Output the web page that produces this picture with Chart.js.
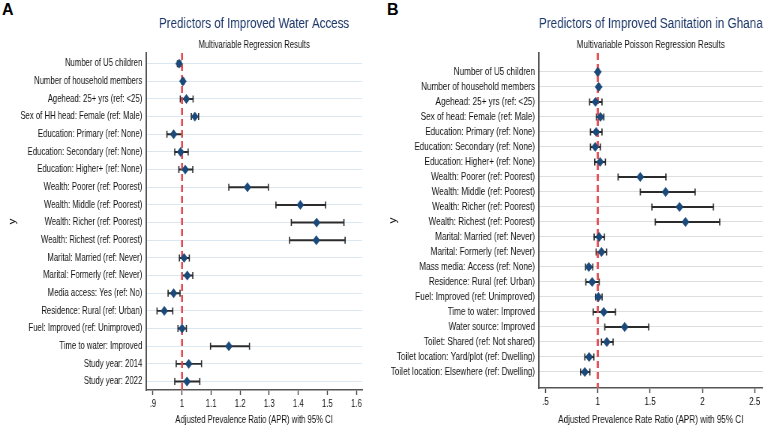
<!DOCTYPE html>
<html>
<head>
<meta charset="utf-8">
<script src="https://cdn.jsdelivr.net/npm/chart.js@4.4.1/dist/chart.umd.min.js"></script>
<style>
  html, body { margin: 0; padding: 0; background: #fff; }
  body { width: 767px; height: 426px; position: relative; overflow: hidden; font-family: 'Liberation Sans', Arial, sans-serif; }
  .panel-tag { position: absolute; top: 1px; font-weight: bold; font-size: 16px; color: #000; }
  canvas { position: absolute; top: 0; transform-origin: 0 0; }
</style>
</head>
<body>
<div class="panel-tag" style="left:2px">A</div>
<div class="panel-tag" style="left:387px">B</div>
<canvas id="waterChart" width="507" height="426" style="left:0; transform:scaleX(0.75)"></canvas>
<canvas id="sanChart" width="490" height="426" style="left:380px; transform:scaleX(0.79)"></canvas>
<script>
// Panel A - water access
const waterLabels = [
    'Number of U5 children', 'Number of household members', 'Agehead: 25+ yrs (ref: <25)',
    'Sex of HH head: Female (ref: Male)', 'Education: Primary (ref: None)', 'Education: Secondary (ref: None)',
    'Education: Higher+ (ref: None)', 'Wealth: Poorer (ref: Poorest)', 'Wealth: Middle (ref: Poorest)',
    'Wealth: Richer (ref: Poorest)', 'Wealth: Richest (ref: Poorest)', 'Marital: Married (ref: Never)',
    'Marital: Formerly (ref: Never)', 'Media access: Yes (ref: No)', 'Residence: Rural (ref: Urban)',
    'Fuel: Improved (ref: Unimproved)', 'Time to water: Improved', 'Study year: 2014', 'Study year: 2022'
];
const waterApr  = [0.990, 1.003, 1.015, 1.044, 0.971, 0.995, 1.011, 1.225, 1.407, 1.463, 1.462, 1.007, 1.018, 0.971, 0.939, 1.000, 1.161, 1.023, 1.017];
const waterLow  = [0.984, 0.999, 0.994, 1.032, 0.948, 0.975, 0.989, 1.161, 1.323, 1.376, 1.370, 0.991, 1.000, 0.952, 0.914, 0.986, 1.098, 0.980, 0.975];
const waterHigh = [0.996, 1.007, 1.038, 1.057, 1.000, 1.021, 1.037, 1.297, 1.494, 1.557, 1.561, 1.025, 1.037, 0.993, 0.968, 1.015, 1.232, 1.067, 1.061];
const waterTicks = [0.9, 1, 1.1, 1.2, 1.3, 1.4, 1.5, 1.6];

// Panel B - sanitation
const sanLabels = [
    'Number of U5 children', 'Number of household members', 'Agehead: 25+ yrs (ref: <25)',
    'Sex of head: Female (ref: Male)', 'Education: Primary (ref: None)', 'Education: Secondary (ref: None)',
    'Education: Higher+ (ref: None)', 'Wealth: Poorer (ref: Poorest)', 'Wealth: Middle (ref: Poorest)',
    'Wealth: Richer (ref: Poorest)', 'Wealth: Richest (ref: Poorest)', 'Marital: Married (ref: Never)',
    'Marital: Formerly (ref: Never)', 'Mass media: Access (ref: None)', 'Residence: Rural (ref: Urban)',
    'Fuel: Improved (ref: Unimproved)', 'Time to water: Improved', 'Water source: Improved',
    'Toilet: Shared (ref: Not shared)', 'Toilet location: Yard/plot (ref: Dwelling)', 'Toilet location: Elsewhere (ref: Dwelling)'
];
const sanApr  = [1.000, 1.008, 0.978, 1.025, 0.984, 0.975, 1.022, 1.406, 1.648, 1.781, 1.838, 1.013, 1.035, 0.914, 0.946, 1.006, 1.057, 1.257, 1.086, 0.917, 0.876];
const sanLow  = [0.990, 1.000, 0.922, 0.987, 0.930, 0.930, 0.971, 1.194, 1.406, 1.517, 1.549, 0.965, 0.984, 0.883, 0.886, 0.978, 0.956, 1.067, 1.035, 0.876, 0.835];
const sanHigh = [1.010, 1.016, 1.040, 1.057, 1.040, 1.025, 1.073, 1.651, 1.930, 2.105, 2.165, 1.063, 1.083, 0.952, 1.013, 1.041, 1.168, 1.486, 1.146, 0.962, 0.924];
const sanTicks = [0.5, 1, 1.5, 2, 2.5];

const NAVY = '#1b4a7a';
const BAR_INK = '#2b2b2b';
const TXT = '#111';

Chart.defaults.font.family = "'Liberation Sans', Arial, sans-serif";

function fmtTick(v) {
    return String(v).replace(/^0\./, '.');
}

function buildPanel(id, p) {
    const rows = p.labels.map((_, i) => i + 1);
    const ctx = document.getElementById(id).getContext('2d');

    return new Chart(ctx, {
        type: 'scatter',
        data: {
            datasets: [
                {
                    type: 'bar', indexAxis: 'y',
                    data: rows.map((r, i) => ({ x: [p.low[i], p.high[i]], y: r })),
                    backgroundColor: BAR_INK, barThickness: 1.3, borderWidth: 0, order: 3
                },
                {
                    type: 'scatter',
                    data: rows.flatMap((r, i) => [{ x: p.low[i], y: r }, { x: p.high[i], y: r }]),
                    pointStyle: 'line', pointRotation: 90, pointRadius: 3.5,
                    pointBorderWidth: 1.6, pointBorderColor: BAR_INK, order: 2
                },
                {
                    type: 'scatter', showLine: true,
                    data: [{ x: 1, y: p.yMin }, { x: 1, y: p.yMax }],
                    borderColor: '#e5494f', borderWidth: 2.6, borderDash: [7, 4],
                    pointRadius: 0, order: 1
                },
                {
                    type: 'scatter',
                    data: rows.map((r, i) => ({ x: p.apr[i], y: r })),
                    pointStyle: 'rectRot', pointRadius: 4.7,
                    pointBackgroundColor: NAVY, pointBorderColor: NAVY, pointBorderWidth: 0.5, order: 0
                }
            ]
        },
        options: {
            responsive: false, animation: false, devicePixelRatio: 1,
            layout: { padding: { left: 0, right: p.padRight, top: 0, bottom: 0 } },
            plugins: {
                legend: { display: false },
                tooltip: { enabled: false },
                title: {
                    display: true, text: p.title, fullSize: false, color: '#1c3668',
                    font: { size: p.titleSize, weight: 'normal', lineHeight: 1.2 },
                    padding: { top: 15, bottom: 0 }
                },
                subtitle: {
                    display: true, text: p.subtitle, fullSize: false, color: TXT,
                    font: { size: 10.2, lineHeight: 1.2 },
                    padding: { top: 5.5, bottom: 1.9 }
                }
            },
            scales: {
                x: {
                    type: 'linear', min: p.xMin, max: p.xMax, offset: false, beginAtZero: false,
                    afterBuildTicks: s => { s.ticks = p.ticks.map(v => ({ value: v })); },
                    afterFit: s => { s.height = p.axisHeight; },
                    grid: { drawOnChartArea: false, drawTicks: true, tickLength: 5, tickColor: '#444', tickWidth: 1.4 },
                    border: { color: '#555', width: 1.6 },
                    ticks: { callback: v => fmtTick(v), color: TXT, font: { size: 10.3 }, padding: 3, maxRotation: 0, autoSkip: false },
                    title: { display: true, text: p.xTitle, color: TXT, font: { size: 10.3 }, padding: { top: 0, bottom: 0 } }
                },
                y: {
                    type: 'linear', reverse: true, min: p.yMin, max: p.yMax, offset: false,
                    afterBuildTicks: s => { s.ticks = rows.map(v => ({ value: v })); },
                    afterFit: s => { s.width = p.axisWidth; },
                    grid: { color: p.gridColor, lineWidth: 1, drawTicks: false, offset: false },
                    border: { color: '#555', width: 2 },
                    ticks: { callback: v => p.labels[Math.round(v) - 1], color: TXT, font: { size: 10.3 }, padding: 5, autoSkip: false },
                    title: { display: true, text: 'y', color: TXT, font: { size: 12 }, padding: { top: 9 } }
                }
            }
        }
    });
}

buildPanel('waterChart', {
    labels: waterLabels, apr: waterApr, low: waterLow, high: waterHigh, ticks: waterTicks,
    xMin: 0.876, xMax: 1.62, yMin: 0.405, yMax: 19.48,
    title: 'Predictors of Improved Water Access', titleSize: 15.4,
    subtitle: 'Multivariable Regression Results',
    xTitle: 'Adjusted Prevalence Ratio (APR) with 95% CI',
    gridColor: '#dce8f1', axisWidth: 146 / 0.75, padRight: 18 / 0.75, axisHeight: 36
});

buildPanel('sanChart', {
    labels: sanLabels, apr: sanApr, low: sanLow, high: sanHigh, ticks: sanTicks,
    xMin: 0.438, xMax: 2.576, yMin: -0.267, yMax: 22.067,
    title: 'Predictors of Improved Sanitation in Ghana', titleSize: 15.2,
    subtitle: 'Multivariable Poisson Regression Results',
    xTitle: 'Adjusted Prevalence Rate Ratio (APR) with 95% CI',
    gridColor: '#dedede', axisWidth: 159 / 0.79, padRight: 4 / 0.79, axisHeight: 38
});
</script>
</body>
</html>
